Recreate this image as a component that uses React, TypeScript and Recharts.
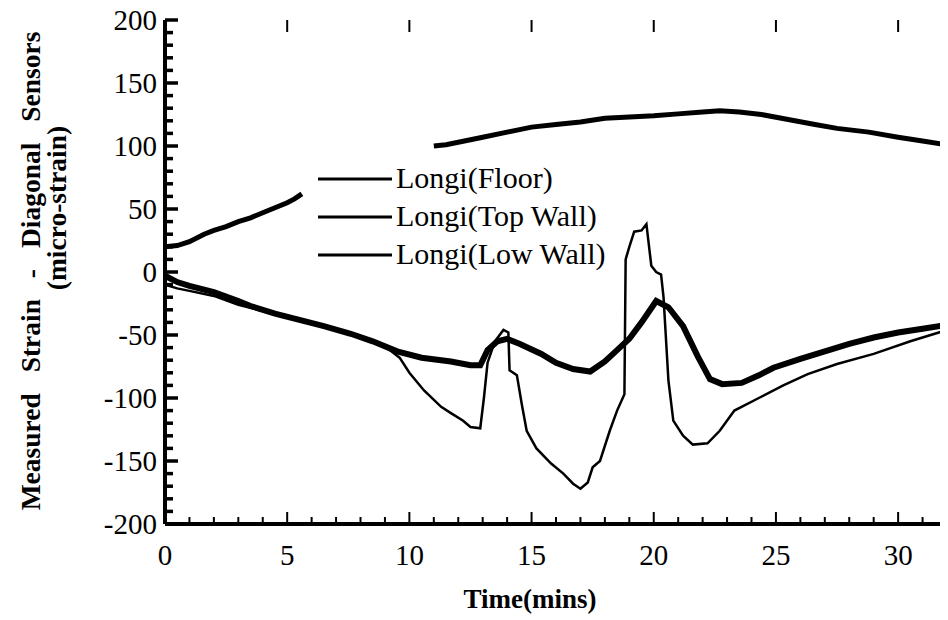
import React from 'react';
import { LineChart, Line, XAxis, YAxis, Legend } from 'recharts';

// ---- data ----
const seriesNames = ['Longi(Floor)', 'Longi(Top Wall)', 'Longi(Low Wall)'];

const floorTime = [0, 0.5, 1, 1.6, 2, 2.5, 3, 3.5, 4, 4.5, 5, 5.3, 5.6, 8, 11, 11.5, 12, 13, 14, 15, 16, 17, 18, 19, 20, 21, 22, 22.7, 23.5, 24.4, 25.5, 26.6, 27.5, 28.8, 30, 31, 32];
const floorStrain = [20, 21, 24, 30, 33, 36, 40, 43, 47, 51, 55, 58, 62, null, 100, 101, 103, 107, 111, 115, 117, 119, 122, 123, 124, 125.5, 127, 128, 127, 125, 121, 117, 114, 111, 107, 104, 101];

const topTime = [0, 0.5, 1, 2, 3, 3.5, 4.5, 5.5, 6.5, 7.6, 8.5, 9.5, 10.5, 11.7, 12.5, 12.9, 13.2, 13.6, 14, 14.5, 15.4, 16, 16.7, 17.4, 18, 18.5, 19, 19.5, 20.1, 20.6, 21.2, 21.8, 22.3, 22.8, 23.6, 24.3, 24.9, 26, 27, 28, 29, 30, 31, 32];
const topStrain = [-3, -8, -11, -16, -23, -27, -33, -38, -43, -49, -55, -63, -68, -71, -74, -74, -62, -55, -53, -57, -65, -72, -77, -79, -71, -62, -53, -40, -23, -28, -43, -67, -85, -89, -88, -82, -76, -69, -63, -57, -52, -48, -45, -42];

const lowTime = [0, 0.5, 1, 2, 3, 4, 5, 6, 7, 8, 9, 9.6, 10, 10.6, 11.3, 11.7, 12.2, 12.5, 12.9, 13.05, 13.2, 13.5, 13.85, 14.05, 14.1, 14.4, 14.6, 14.8, 15.2, 15.8, 16.3, 16.7, 17, 17.3, 17.5, 17.8, 18.2, 18.5, 18.8, 18.85, 19, 19.2, 19.5, 19.7, 19.9, 20.1, 20.3, 20.4, 20.6, 20.8, 21.2, 21.6, 22.2, 22.7, 23.3, 24.3, 25.3, 26.3, 27.5, 29, 30.5, 32];
const lowStrain = [-10, -13, -15, -19, -26, -31, -36, -41, -46, -52, -59, -68, -80, -94, -107, -112, -118, -123, -124, -100, -72, -55, -46, -48, -78, -82, -105, -126, -140, -152, -160, -168, -172, -167, -155, -150, -126, -110, -97, 10, 20, 32, 33, 38, 5, 0, -2, -20, -86, -118, -130, -137, -136, -126, -110, -100, -90, -81, -73, -65, -55, -46];

const xMajorTicks = [0, 5, 10, 15, 20, 25, 30];
const yMajorTicks = [-200, -150, -100, -50, 0, 50, 100, 150, 200];
const xMinorStep = 1;
const yMinorStep = 10;

const X_DOMAIN: [number, number] = [0, 32];
const Y_DOMAIN: [number, number] = [-200, 200];

const build = (t: number[], v: (number | null)[]) => t.map((tt, i) => ({ t: tt, v: v[i] }));
const floorData = build(floorTime, floorStrain);
const topData = build(topTime, topStrain);
const lowData = build(lowTime, lowStrain);

const xAllTicks: number[] = [];
for (let x = X_DOMAIN[0]; x <= X_DOMAIN[1]; x += xMinorStep) xAllTicks.push(x);
const yAllTicks: number[] = [];
for (let y = Y_DOMAIN[0]; y <= Y_DOMAIN[1]; y += yMinorStep) yAllTicks.push(y);

const FONT = 'Liberation Serif';

const BottomTick = (props: any) => {
  const { x, y, payload } = props;
  const v = payload.value;
  const major = xMajorTicks.includes(v);
  return (
    <g>
      <line x1={x} x2={x} y1={y} y2={y - (major ? 12 : 7)} stroke="#000" strokeWidth={2} />
      {major && (
        <text x={x} y={y + 41} textAnchor="middle" fontSize={29} style={{ fontFamily: FONT }} fill="#000">
          {String(v)}
        </text>
      )}
    </g>
  );
};

const TopTick = (props: any) => {
  const { x, y, payload } = props;
  const major = xMajorTicks.includes(payload.value);
  if (!major) return <g />;
  return <line x1={x} x2={x} y1={y} y2={y + 12} stroke="#000" strokeWidth={2} />;
};

const LeftTick = (props: any) => {
  const { x, y, payload } = props;
  const v = payload.value;
  const major = yMajorTicks.includes(v);
  return (
    <g>
      <line x1={x} x2={x + (major ? 13 : 8)} y1={y} y2={y} stroke="#000" strokeWidth={3.5} />
      {major && (
        <text x={x - 8} y={y + 10} textAnchor="end" fontSize={29} style={{ fontFamily: FONT }} fill="#000">
          {String(v)}
        </text>
      )}
    </g>
  );
};

const RightTick = (props: any) => {
  const { x, y, payload } = props;
  const major = yMajorTicks.includes(payload.value);
  return <line x1={x} x2={x - (major ? 7 : 2)} y1={y} y2={y} stroke="#000" strokeWidth={major ? 3 : 1} />;
};

const YTitle = () => (
  <g fill="#000">
    <text x={32} y={263} transform="rotate(-90 32 263)" textAnchor="middle" fontSize={27.5} fontWeight="bold" wordSpacing={14} style={{ fontFamily: FONT }}>
      Measured Strain - Diagonal Sensors
    </text>
    <text x={58} y={200} transform="rotate(-90 58 200)" textAnchor="middle" fontSize={27.5} fontWeight="bold" style={{ fontFamily: FONT }}>
      (micro-strain)
    </text>
  </g>
);

const XTitle = () => (
  <text x={522} y={600} textAnchor="middle" fontSize={27} fontWeight="bold" style={{ fontFamily: FONT }} fill="#000">
    Time(mins)
  </text>
);

const LegendBox = () => (
  <svg width={330} height={115} style={{ display: 'block' }}>
    {seriesNames.map((name, i) => {
      const y = 21 + i * 38;
      return (
        <g key={name}>
          <line x1={0} x2={74} y1={y} y2={y} stroke="#000" strokeWidth={3} />
          <text x={78} y={y + 9} fontSize={30} style={{ fontFamily: FONT }} fill="#000">
            {name}
          </text>
        </g>
      );
    })}
  </svg>
);

export default function App() {
  return (
    <LineChart width={940} height={612} margin={{ top: 11, right: 0, bottom: 0, left: 0 }}>
      <XAxis
        xAxisId="bottom"
        type="number"
        dataKey="t"
        domain={X_DOMAIN}
        ticks={xAllTicks}
        interval={0}
        height={96}
        tickSize={0}
        tickMargin={0}
        tickLine={false}
        axisLine={{ stroke: '#000', strokeWidth: 4 }}
        tick={<BottomTick />}
        allowDataOverflow
        label={<XTitle />}
      />
      <XAxis
        xAxisId="top"
        orientation="top"
        type="number"
        dataKey="t"
        domain={X_DOMAIN}
        ticks={xAllTicks}
        interval={0}
        height={1}
        tickSize={0}
        tickMargin={0}
        tickLine={false}
        axisLine={false}
        tick={<TopTick />}
        allowDataOverflow
      />
      <YAxis
        yAxisId="left"
        type="number"
        domain={Y_DOMAIN}
        ticks={yAllTicks}
        interval={0}
        width={157}
        tickSize={0}
        tickMargin={0}
        tickLine={false}
        axisLine={{ stroke: '#000', strokeWidth: 4 }}
        tick={<LeftTick />}
        allowDataOverflow
        label={<YTitle />}
      />
      <YAxis
        yAxisId="right"
        orientation="right"
        type="number"
        domain={Y_DOMAIN}
        ticks={yAllTicks}
        interval={0}
        width={1}
        tickSize={0}
        tickMargin={0}
        tickLine={false}
        axisLine={false}
        tick={<RightTick />}
        allowDataOverflow
      />
      <Legend
        layout="horizontal"
        verticalAlign="middle"
        align="center"
        content={<LegendBox />}
        wrapperStyle={{ position: 'absolute', left: 310, top: 150, width: 330, height: 115 }}
      />
      <Line
        xAxisId="bottom"
        yAxisId="left"
        data={floorData}
        dataKey="v"
        name={seriesNames[0]}
        type="linear"
        stroke="#000"
        strokeWidth={5}
        dot={false}
        connectNulls={false}
        isAnimationActive={false}
      />
      <Line
        xAxisId="bottom"
        yAxisId="left"
        data={topData}
        dataKey="v"
        name={seriesNames[1]}
        type="linear"
        stroke="#000"
        strokeWidth={6}
        dot={false}
        isAnimationActive={false}
      />
      <Line
        xAxisId="bottom"
        yAxisId="left"
        data={lowData}
        dataKey="v"
        name={seriesNames[2]}
        type="linear"
        stroke="#000"
        strokeWidth={2.5}
        dot={false}
        isAnimationActive={false}
      />
    </LineChart>
  );
}
